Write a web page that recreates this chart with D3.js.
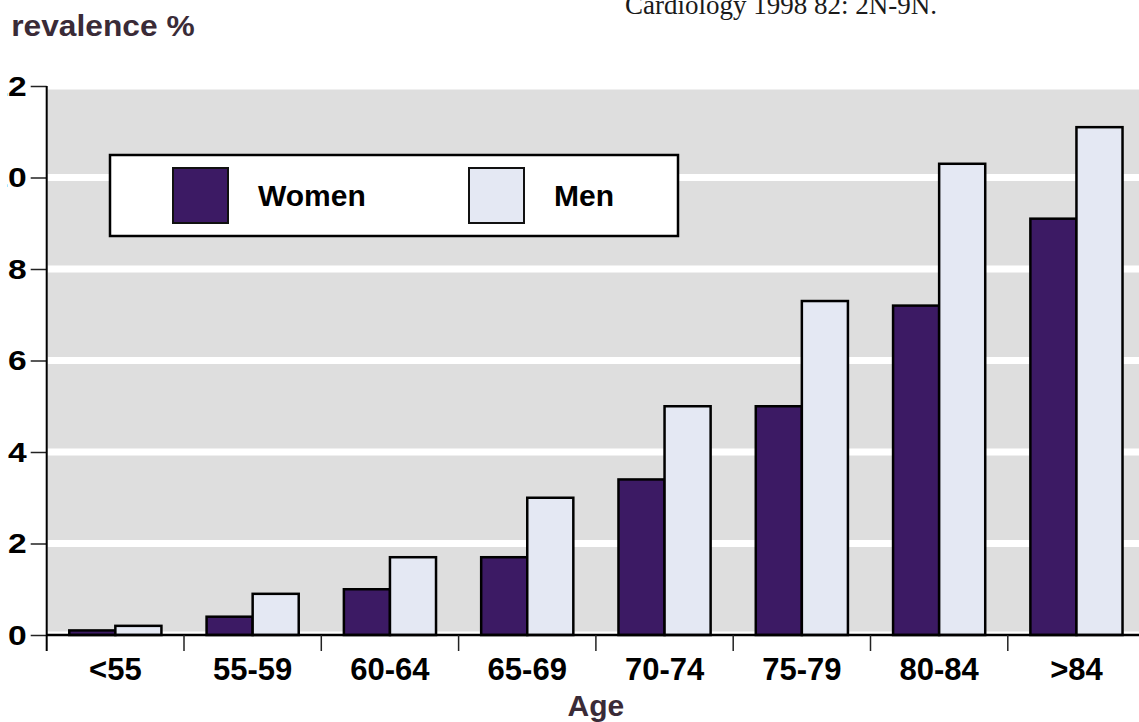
<!DOCTYPE html>
<html>
<head>
<meta charset="utf-8">
<script src="https://cdn.jsdelivr.net/npm/d3@7"></script>
<style>
  html, body { margin: 0; padding: 0; background: #fff; overflow: hidden; }
  .canvas svg { display: block; }
</style>
</head>
<body>
<div class="canvas"></div>
<script>
// data
const ageGroups = ['<55', '55-59', '60-64', '65-69', '70-74', '75-79', '80-84', '>84'];
const women = [0.1, 0.4, 1.0, 1.7, 3.4, 5.0, 7.2, 9.1];
const men = [0.2, 0.9, 1.7, 3.0, 5.0, 7.3, 10.3, 11.1];
const yTicks = [0, 2, 4, 6, 8, 10, 12];
const seriesNames = ['Women', 'Men'];
const seriesColors = ['#3c1a64', '#e4e8f3'];

const width = 1139;
const height = 722;
const margin = { top: 86, left: 46.7, bottom: 87 };
// plot runs past the right edge of the picture (cropped like the original)
const graphWidth = 8 * 137.3;
const graphHeight = height - margin.top - margin.bottom;

const svg = d3.select('.canvas').append('svg')
  .attr('width', width)
  .attr('height', height)
  .style('font-family', 'Arial, "Liberation Sans", Helvetica, sans-serif');

// clip paths for the cropped left edge
const defs = svg.append('defs');
defs.append('clipPath').attr('id', 'clipTicks')
  .append('rect').attr('x', 7).attr('y', 0).attr('width', 200).attr('height', height);
defs.append('clipPath').attr('id', 'clipTitle')
  .append('rect').attr('x', 11).attr('y', 0).attr('width', 400).attr('height', 60);

const graph = svg.append('g')
  .attr('transform', `translate(${margin.left},${margin.top})`);

// scales
const x0 = d3.scaleBand().domain(ageGroups).range([0, graphWidth]).paddingInner(0).paddingOuter(0);
const x1 = d3.scaleBand().domain(seriesNames).range([0, x0.bandwidth()]).paddingInner(0).paddingOuter(0.49);
const y = d3.scaleLinear().domain([0, 12]).range([graphHeight, 0]);
const colour = d3.scaleOrdinal().domain(seriesNames).range(seriesColors);

// grey background + white gridlines
graph.append('rect')
  .attr('x', 0)
  .attr('y', y(12))
  .attr('width', graphWidth)
  .attr('height', y(0) - y(12))
  .attr('fill', '#dedede');

graph.append('g')
  .attr('class', 'grid')
  .selectAll('line')
  .data(yTicks)
  .enter().append('line')
    .attr('x1', 1)
    .attr('x2', graphWidth)
    .attr('y1', d => y(d))
    .attr('y2', d => y(d))
    .attr('stroke', '#fff')
    .attr('stroke-width', 7);

// bars
const rows = ageGroups.map((g, i) => ({ group: g, values: [
  { key: 'Women', value: women[i] },
  { key: 'Men', value: men[i] }
]}));

const groups = graph.selectAll('.bar-group')
  .data(rows)
  .enter().append('g')
    .attr('class', 'bar-group')
    .attr('transform', d => `translate(${x0(d.group)},0)`);

groups.selectAll('rect')
  .data(d => d.values)
  .enter().append('rect')
    .attr('x', d => x1(d.key))
    .attr('y', d => y(d.value))
    .attr('width', x1.bandwidth())
    .attr('height', d => y(0) - y(d.value))
    .attr('fill', d => colour(d.key))
    .attr('stroke', '#000')
    .attr('stroke-width', 2.5);

// y axis
const yAxisGroup = graph.append('g')
  .attr('class', 'y-axis');

const yAxis = d3.axisLeft(y)
  .tickValues(yTicks)
  .tickSize(16)
  .tickPadding(4)
  .tickFormat(d => d);

yAxisGroup.call(yAxis);
yAxisGroup.select('.domain').remove();
yAxisGroup.selectAll('.tick line')
  .attr('stroke', '#222')
  .attr('stroke-width', 1.5);

// tick labels go into a clipped layer so the left edge is cut off like the original
const tickLabelLayer = svg.append('g').attr('clip-path', 'url(#clipTicks)');
yAxisGroup.selectAll('.tick text').each(function (d) {
  tickLabelLayer.append('text')
    .attr('transform', `translate(${margin.left - 20},${margin.top + y(d)}) scale(1.2,1)`)
    .attr('dy', '0.35em')
    .attr('text-anchor', 'end')
    .style('font-size', '28px')
    .style('font-weight', 'bold')
    .attr('fill', '#000')
    .text(d3.select(this).text());
  d3.select(this).remove();
});

// vertical axis line (continues below as first category tick)
graph.append('line')
  .attr('x1', 0).attr('x2', 0)
  .attr('y1', y(12)).attr('y2', y(0) + 16)
  .attr('stroke', '#000')
  .attr('stroke-width', 2);

// x axis
const xAxisGroup = graph.append('g')
  .attr('class', 'x-axis')
  .attr('transform', `translate(0,${graphHeight})`);

const xAxis = d3.axisBottom(x0)
  .tickSize(0)
  .tickPadding(23);

xAxisGroup.call(xAxis);
xAxisGroup.select('.domain').remove();
xAxisGroup.selectAll('.tick text')
  .attr('fill', '#000')
  .attr('y', 23)
  .attr('dy', '0.71em')
  .style('font-size', '31px')
  .style('font-weight', 'bold');

xAxisGroup.append('line')
  .attr('x1', 0).attr('x2', graphWidth)
  .attr('y1', 0).attr('y2', 0)
  .attr('stroke', '#000')
  .attr('stroke-width', 2.5);

// category boundary ticks
xAxisGroup.selectAll('.sep')
  .data(ageGroups.slice(1).concat(['end']))
  .enter().append('line')
    .attr('class', 'sep')
    .attr('x1', d => d === 'end' ? graphWidth : x0(d))
    .attr('x2', d => d === 'end' ? graphWidth : x0(d))
    .attr('y1', 0)
    .attr('y2', 16)
    .attr('stroke', '#222')
    .attr('stroke-width', 1.5);

// axis titles
svg.append('g').attr('clip-path', 'url(#clipTitle)')
  .append('text')
    .attr('transform', 'translate(-10,36) scale(1.095,1)')
    .style('font-size', '29px')
    .style('font-weight', 'bold')
    .attr('fill', '#3a2b37')
    .text('Prevalence %');

svg.append('text')
  .attr('x', margin.left + x0.step() * 4)
  .attr('y', 716)
  .attr('text-anchor', 'middle')
  .style('font-size', '30px')
  .style('font-weight', 'bold')
  .attr('fill', '#3a2b37')
  .text('Age');

// source note (top edge cropped)
svg.append('text')
  .attr('x', 625)
  .attr('y', 14)
  .style('font-family', '"Liberation Serif", "DejaVu Serif", serif')
  .style('font-size', '27px')
  .attr('fill', '#1a1a1a')
  .text('Cardiology 1998 82: 2N-9N.');

// legend
const legend = svg.append('g').attr('class', 'legend');
legend.append('rect')
  .attr('x', 110).attr('y', 155)
  .attr('width', 568).attr('height', 81)
  .attr('fill', '#fff')
  .attr('stroke', '#000')
  .attr('stroke-width', 2.5);

const legendItems = legend.selectAll('.item')
  .data(seriesNames)
  .enter().append('g')
    .attr('class', 'item')
    .attr('transform', (d, i) => `translate(${173 + i * 296},168)`);

legendItems.append('rect')
  .attr('width', 55).attr('height', 55)
  .attr('fill', d => colour(d))
  .attr('stroke', '#111')
  .attr('stroke-width', 2);

legendItems.append('text')
  .attr('x', 85)
  .attr('y', 38)
  .style('font-size', '30px')
  .style('font-weight', 'bold')
  .attr('fill', '#000')
  .text(d => d);
</script>
</body>
</html>
